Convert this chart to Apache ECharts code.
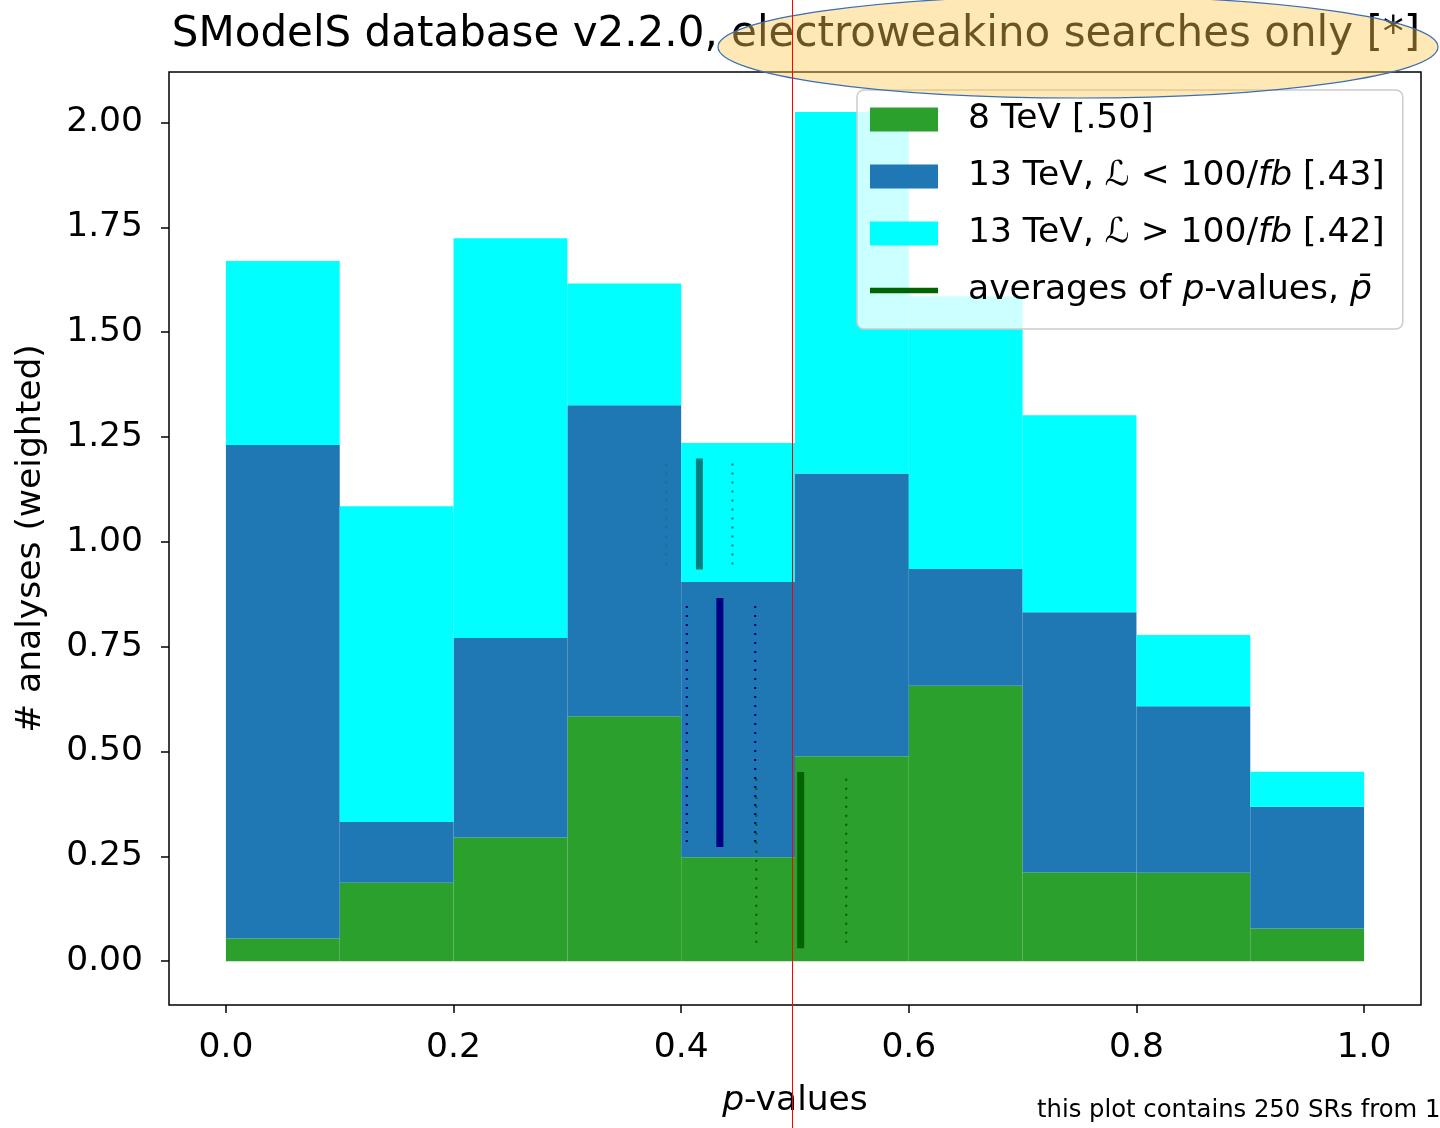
<!DOCTYPE html>
<html>
<head>
<meta charset="utf-8">
<title>SModelS p-values</title>
<script src="https://cdn.jsdelivr.net/npm/echarts@6/dist/echarts.min.js"></script>
<style>
  html, body { margin: 0; padding: 0; background: #ffffff; }
  #chart { width: 1440px; height: 1128px; }
</style>
</head>
<body>
<div id="chart"></div>
<script>
// ---- histogram data (weighted number of analyses per p-value bin) ----
const binEdges  = [0.0, 0.1, 0.2, 0.3, 0.4, 0.5, 0.6, 0.7, 0.8, 0.9, 1.0];
const tev8      = [0.054, 0.187, 0.295, 0.584, 0.248, 0.489, 0.657, 0.212, 0.211, 0.078];
const tev13Low  = [1.177, 0.145, 0.476, 0.742, 0.656, 0.674, 0.278, 0.620, 0.397, 0.290];
const tev13High = [0.439, 0.753, 0.953, 0.290, 0.332, 0.862, 0.651, 0.470, 0.170, 0.084];

// ---- averages of p-values (solid) with their spread (dotted) ----
const avgNames    = ['8 TeV', '13 TeV low', '13 TeV high'];
const avgMean     = [0.505, 0.434, 0.416];
const avgDotLeft  = [0.466, 0.405, 0.387];
const avgDotRight = [0.545, 0.465, 0.445];
const avgSolidY   = [[0.031, 0.451], [0.272, 0.866], [0.934, 1.199]];
const avgDotY     = [[0.044, 0.444], [0.284, 0.859], [0.946, 1.193]];
const avgColors   = ['#006400', '#000080', '#008080'];

// ---- axis ticks ----
const xTicks = [0, 0.2, 0.4, 0.6, 0.8, 1.0];
const yTicks = [0, 0.25, 0.5, 0.75, 1.0, 1.25, 1.5, 1.75, 2.0];

const FONT = 'DejaVu Sans';
const FS = 34.5;
const nameTev8 = '8 TeV [.50]';
const nameLow  = '13 TeV, L < 100/fb [.43]';
const nameHigh = '13 TeV, L > 100/fb [.42]';
const nameAvg  = 'averages of p-values';

const legendText = {};
legendText[nameTev8] = '{n|8 TeV [.50]}';
legendText[nameLow]  = '{n|13 TeV, }{i|\u2112}{n| < 100/}{i|fb}{n| [.43]}';
legendText[nameHigh] = '{n|13 TeV, }{i|\u2112}{n| > 100/}{i|fb}{n| [.42]}';
legendText[nameAvg]  = '{n|averages of }{i|p}{n|-values, }{i|p\u0304}';

// stacked histogram: each layer sits on top of the layers below it
const layers = [tev8, tev13Low, tev13High];
function stackedRows(layerIndex) {
  return layers[layerIndex].map((v, i) => {
    let base = 0;
    for (let k = 0; k < layerIndex; k++) base += layers[k][i];
    return [binEdges[i], binEdges[i + 1], base, base + v];
  });
}

function histSeries(name, layerIndex, color) {
  return {
    name: name,
    type: 'custom',
    itemStyle: { color: color },
    encode: { x: [0, 1], y: [2, 3] },
    data: stackedRows(layerIndex),
    renderItem: function (params, api) {
      const p0 = api.coord([api.value(0), api.value(2)]);
      const p1 = api.coord([api.value(1), api.value(3)]);
      return {
        type: 'rect',
        shape: { x: p0[0], y: p1[1], width: p1[0] - p0[0], height: p0[1] - p1[1] },
        style: { fill: color }
      };
    }
  };
}

function vline(name, x, ys, color, width, dotted) {
  return {
    name: name,
    type: 'line',
    symbol: 'none',
    z: 5,
    color: color,
    itemStyle: { color: color },
    lineStyle: { color: color, width: width, type: dotted ? [2, 7] : 'solid', cap: 'butt' },
    data: [[x, ys[0]], [x, ys[1]]]
  };
}

const series = [
  histSeries(nameTev8, 0, '#2ca02c'),
  histSeries(nameLow, 1, '#1f77b4'),
  histSeries(nameHigh, 2, '#00ffff')
];
for (let k = 0; k < 3; k++) {
  series.push(vline(k === 0 ? nameAvg : 'mean ' + avgNames[k], avgMean[k], avgSolidY[k], avgColors[k], 7, false));
  series.push(vline('low ' + avgNames[k], avgDotLeft[k], avgDotY[k], avgColors[k], 2.2, true));
  series.push(vline('high ' + avgNames[k], avgDotRight[k], avgDotY[k], avgColors[k], 2.2, true));
}

const chart = echarts.init(document.getElementById('chart'), null, { renderer: 'canvas' });

chart.setOption({
  animation: false,
  backgroundColor: '#ffffff',
  title: [
    {
      text: 'SModelS database v2.2.0, electroweakino searches only [*]',
      left: 791,
      textAlign: 'center',
      top: 9,
      textStyle: { fontFamily: FONT, fontSize: 42, fontWeight: 'normal', color: '#000' }
    },
    {
      text: 'this plot contains 250 SRs from 1',
      left: 1032,
      top: 1094,
      textStyle: { fontFamily: FONT, fontSize: 24.3, fontWeight: 'normal', color: '#000' }
    }
  ],
  grid: {
    left: 169, top: 72, width: 1252, height: 933,
    show: true, borderColor: '#000', borderWidth: 1.5, backgroundColor: 'transparent'
  },
  legend: {
    orient: 'vertical',
    left: 857, top: 90,
    itemWidth: 68, itemHeight: 24, itemGap: 22,
    padding: [12, 18, 21, 13],
    backgroundColor: 'rgba(255,255,255,0.8)',
    borderColor: '#cccccc', borderWidth: 1.5, borderRadius: 7,
    selectedMode: false,
    formatter: name => legendText[name],
    textStyle: {
      fontFamily: FONT, fontSize: FS, color: '#000',
      padding: [0, 0, 0, 25],
      rich: {
        n: { fontFamily: FONT, fontSize: FS, color: '#000', lineHeight: 37 },
        i: { fontFamily: FONT, fontSize: FS, color: '#000', fontStyle: 'italic', lineHeight: 37 }
      }
    },
    data: [
      { name: nameTev8, icon: 'rect' },
      { name: nameLow, icon: 'rect' },
      { name: nameHigh, icon: 'rect' },
      {
        name: nameAvg,
        icon: 'path://M0,0 M0,9 L76,9 L76,15 L0,15 Z M76,24',
        itemStyle: { color: '#006400', borderWidth: 0 },
        lineStyle: { width: 0 }
      }
    ]
  },
  xAxis: {
    type: 'value',
    min: -0.05, max: 1.05,
    name: '{i|p}{n|-values}',
    nameLocation: 'middle',
    nameGap: 79,
    nameTextStyle: {
      rich: {
        n: { fontFamily: FONT, fontSize: FS, color: '#000' },
        i: { fontFamily: FONT, fontSize: FS, color: '#000', fontStyle: 'italic' }
      }
    },
    axisLine: { show: false, onZero: false },
    splitLine: { show: false },
    axisTick: { show: true, length: 8, lineStyle: { color: '#000', width: 1.5 }, customValues: xTicks },
    axisLabel: {
      customValues: xTicks, margin: 26,
      fontFamily: FONT, fontSize: FS, color: '#000',
      formatter: v => v.toFixed(1)
    }
  },
  yAxis: {
    type: 'value',
    min: -0.1045, max: 2.1205,
    name: '# analyses (weighted)',
    nameLocation: 'middle',
    nameGap: 120,
    nameTextStyle: { fontFamily: FONT, fontSize: FS, color: '#000' },
    axisLine: { show: false, onZero: false },
    splitLine: { show: false },
    axisTick: { show: true, length: 8, lineStyle: { color: '#000', width: 1.5 }, customValues: yTicks },
    axisLabel: {
      customValues: yTicks, margin: 26,
      fontFamily: FONT, fontSize: FS, color: '#000',
      formatter: v => v.toFixed(2)
    }
  },
  graphic: [
    {
      type: 'ellipse',
      z: 100,
      shape: { cx: 1078, cy: 47, rx: 360, ry: 51 },
      style: { fill: 'rgba(250,200,80,0.42)', stroke: '#3b6db3', lineWidth: 1.2 }
    },
    {
      type: 'line',
      z: 101,
      shape: { x1: 792.5, y1: 0, x2: 792.5, y2: 1128 },
      style: { stroke: '#ff0000', lineWidth: 1 }
    }
  ],
  series: series
});
</script>
</body>
</html>
